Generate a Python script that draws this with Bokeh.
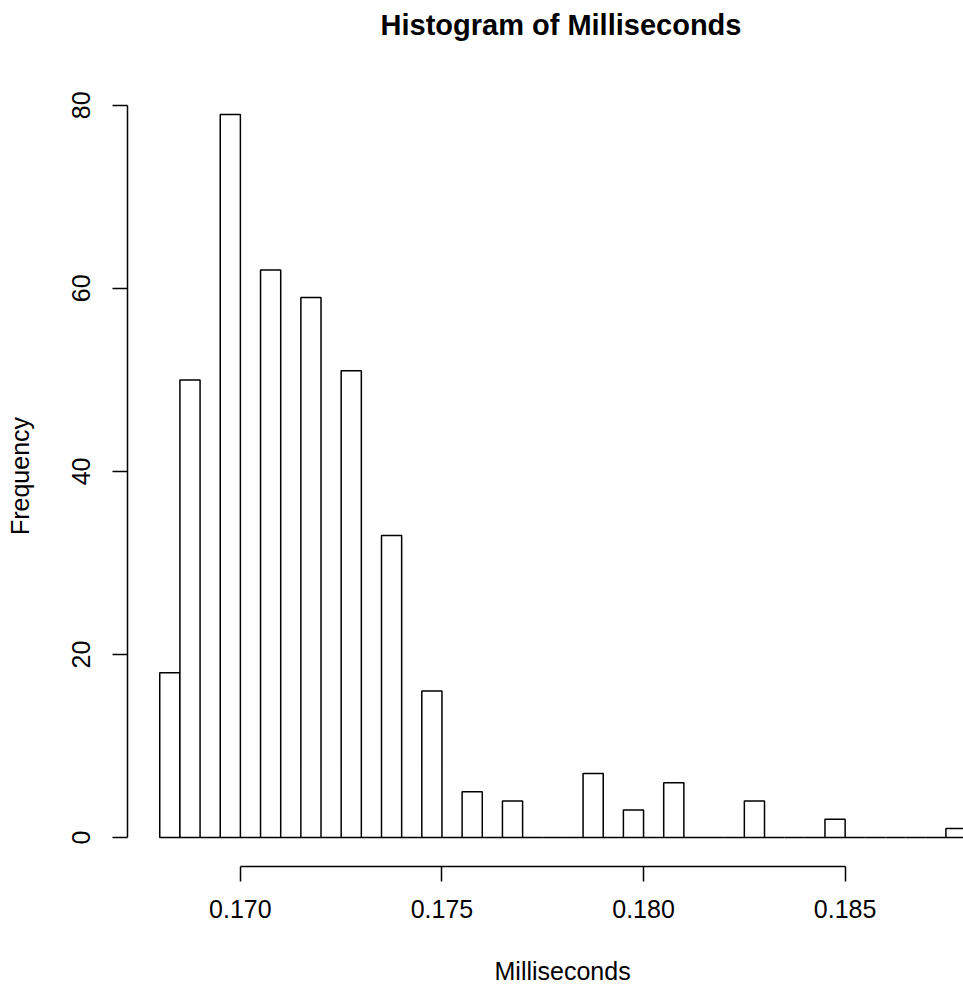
from bokeh.plotting import figure
from bokeh.models import Range1d, FixedTicker, ColumnDataSource, Title
from bokeh.embed import file_html
from bokeh.resources import INLINE

# ---- data ----
breaks = [0.1680, 0.1685, 0.1690, 0.1695, 0.1700, 0.1705, 0.1710, 0.1715,
          0.1720, 0.1725, 0.1730, 0.1735, 0.1740, 0.1745, 0.1750, 0.1755,
          0.1760, 0.1765, 0.1770, 0.1775, 0.1780, 0.1785, 0.1790, 0.1795,
          0.1800, 0.1805, 0.1810, 0.1815, 0.1820, 0.1825, 0.1830, 0.1835,
          0.1840, 0.1845, 0.1850, 0.1855, 0.1860, 0.1865, 0.1870, 0.1875,
          0.1880]
counts = [18, 50, 0, 79, 0, 62, 0, 59, 0, 51,
          0, 33, 0, 16, 0, 5, 0, 4, 0, 0,
          0, 7, 0, 3, 0, 6, 0, 0, 0, 4,
          0, 0, 0, 2, 0, 0, 0, 0, 0, 1]
x_ticks = [0.170, 0.175, 0.180, 0.185]
x_tick_labels = ["0.170", "0.175", "0.180", "0.185"]
y_ticks = [0, 20, 40, 60, 80]
y_tick_labels = ["0", "20", "40", "60", "80"]

title_text = "Histogram of Milliseconds"
x_label = "Milliseconds"
y_label = "Frequency"

FONT = "Liberation Sans"

src = ColumnDataSource(dict(left=breaks[:-1], right=breaks[1:], top=counts,
                            bottom=[0] * len(counts)))

p = figure(width=963, height=987, output_backend="svg", toolbar_location=None,
           x_range=Range1d(0.1672, 0.187936), y_range=Range1d(-3.16, 82.16),
           min_border_left=127, min_border_right=0, min_border_top=85,
           min_border_bottom=121, background_fill_color="white",
           border_fill_color="white")
p.outline_line_color = None
p.xgrid.visible = False
p.ygrid.visible = False

p.quad(left="left", right="right", top="top", bottom="bottom", source=src,
       fill_color="white", line_color="black", line_width=1.5)

for ax, ticks, labels in ((p.xaxis[0], x_ticks, x_tick_labels),
                          (p.yaxis[0], y_ticks, y_tick_labels)):
    ax.ticker = FixedTicker(ticks=ticks)
    ax.major_label_overrides = {t: l for t, l in zip(ticks, labels)}
    ax.minor_tick_line_color = None
    ax.major_tick_in = 0
    ax.major_tick_out = 15
    ax.axis_line_width = 1.5
    ax.major_tick_line_width = 1.5
    ax.axis_line_color = "black"
    ax.major_tick_line_color = "black"
    ax.major_label_text_font = FONT
    ax.major_label_text_font_size = "25px"
    ax.major_label_text_color = "black"

p.xaxis.bounds = (x_ticks[0], x_ticks[-1])
p.yaxis.bounds = (y_ticks[0], y_ticks[-1])
p.xaxis.major_label_standoff = 18
p.yaxis.major_label_standoff = 22
p.yaxis.major_label_orientation = "vertical"

p.yaxis.axis_label = y_label
p.yaxis.axis_label_text_font = FONT
p.yaxis.axis_label_text_font_size = "25px"
p.yaxis.axis_label_text_font_style = "normal"
p.yaxis.axis_label_text_color = "black"
p.yaxis.axis_label_standoff = 36


def spacer(size):
    # a blank title used only to reserve room between the frame and a title
    return Title(text=" ", standoff=size, text_font_size="1px",
                 text_color="white")


p.add_layout(spacer(42), "above")
p.title = Title(text=title_text, align="left", offset=253,
                vertical_align="bottom", standoff=0, text_font=FONT,
                text_font_size="29px", text_font_style="bold",
                text_color="black")

p.add_layout(spacer(31), "below")
p.add_layout(Title(text=x_label, align="left", offset=367,
                   vertical_align="bottom", standoff=0, text_font=FONT,
                   text_font_size="25px", text_font_style="normal",
                   text_color="black"), "below")

open("out.html", "w").write(file_html(p, INLINE))
